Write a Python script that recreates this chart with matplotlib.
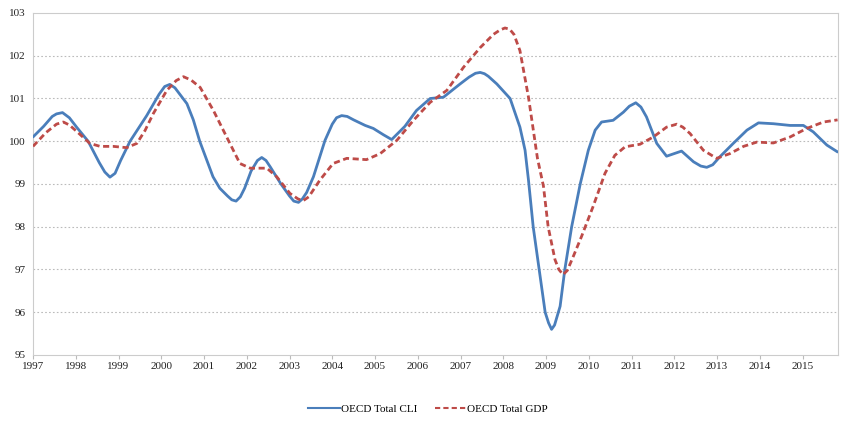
import matplotlib
matplotlib.use("Agg")
import matplotlib.pyplot as plt
from matplotlib.lines import Line2D

cli_years = [1997.00, 1997.25, 1997.45, 1997.55, 1997.69, 1997.85, 1998.02, 1998.29,
             1998.55, 1998.68, 1998.80, 1998.92, 1999.05, 1999.27, 1999.66, 1999.95,
             2000.08, 2000.20, 2000.32, 2000.60, 2000.75, 2000.90, 2001.21, 2001.37,
             2001.55, 2001.65, 2001.75, 2001.85, 2001.95, 2002.10, 2002.25, 2002.35,
             2002.45, 2002.55, 2002.80, 2003.00, 2003.10, 2003.21, 2003.30, 2003.40,
             2003.56, 2003.83, 2004.00, 2004.10, 2004.22, 2004.35, 2004.50, 2004.77,
             2004.96, 2005.20, 2005.39, 2005.70, 2005.97, 2006.29, 2006.60, 2006.99,
             2007.20, 2007.35, 2007.46, 2007.56, 2007.65, 2007.85, 2008.16, 2008.39,
             2008.51, 2008.59, 2008.70, 2008.84, 2008.98, 2009.06, 2009.13, 2009.20,
             2009.33, 2009.44, 2009.60, 2009.80, 2009.99, 2010.15, 2010.30, 2010.57,
             2010.81, 2010.95, 2011.10, 2011.22, 2011.35, 2011.59, 2011.82, 2012.17,
             2012.45, 2012.62, 2012.76, 2012.90, 2013.07, 2013.38, 2013.70, 2013.97,
             2014.32, 2014.71, 2015.02, 2015.25, 2015.57, 2015.82]
cli_values = [100.10, 100.35, 100.58, 100.64, 100.67, 100.55, 100.33, 100.00,
              99.50, 99.28, 99.16, 99.25, 99.55, 100.00, 100.60, 101.10,
              101.28, 101.33, 101.25, 100.88, 100.50, 100.00, 99.17, 98.90,
              98.72, 98.63, 98.60, 98.70, 98.90, 99.30, 99.55, 99.62,
              99.55, 99.40, 99.00, 98.72, 98.60, 98.57, 98.65, 98.80,
              99.17, 100.02, 100.40, 100.55, 100.60, 100.58, 100.50, 100.37,
              100.30, 100.15, 100.04, 100.35, 100.72, 101.00, 101.03, 101.34,
              101.50, 101.59, 101.61, 101.58, 101.52, 101.34, 101.00, 100.33,
              99.79, 99.09, 98.00, 97.00, 96.00, 95.75, 95.60, 95.70,
              96.14, 97.00, 98.00, 99.00, 99.79, 100.26, 100.45, 100.49,
              100.68, 100.82, 100.90, 100.80, 100.57, 99.95, 99.65, 99.77,
              99.52, 99.42, 99.39, 99.45, 99.64, 99.95, 100.26, 100.43,
              100.41, 100.37, 100.37, 100.22, 99.91, 99.75]

gdp_years = [1997.00, 1997.30, 1997.55, 1997.71, 1997.85, 1998.00, 1998.33, 1998.57,
             1998.88, 1999.19, 1999.43, 1999.62, 1999.81, 2000.13, 2000.35, 2000.52,
             2000.70, 2000.91, 2001.22, 2001.53, 2001.84, 2002.08, 2002.47, 2002.70,
             2003.01, 2003.20, 2003.32, 2003.45, 2003.71, 2004.02, 2004.34, 2004.80,
             2005.12, 2005.51, 2005.90, 2006.29, 2006.68, 2007.07, 2007.46, 2007.77,
             2007.92, 2008.04, 2008.15, 2008.25, 2008.39, 2008.59, 2008.80, 2008.94,
             2009.05, 2009.21, 2009.30, 2009.40, 2009.50, 2009.64, 2009.83, 2010.10,
             2010.38, 2010.61, 2010.85, 2011.20, 2011.51, 2011.82, 2012.06, 2012.20,
             2012.37, 2012.68, 2012.99, 2013.30, 2013.62, 2013.93, 2014.32, 2014.71,
             2015.10, 2015.49, 2015.82]
gdp_values = [99.88, 100.20, 100.40, 100.45, 100.38, 100.25, 99.95, 99.88,
              99.88, 99.85, 99.95, 100.25, 100.64, 101.19, 101.42, 101.51,
              101.43, 101.26, 100.72, 100.10, 99.48, 99.37, 99.37, 99.17,
              98.78, 98.65, 98.61, 98.70, 99.09, 99.48, 99.60, 99.57,
              99.71, 100.02, 100.49, 100.91, 101.19, 101.73, 102.19, 102.50,
              102.60, 102.65, 102.62, 102.50, 102.12, 101.03, 99.60, 98.95,
              98.00, 97.23, 97.00, 96.88, 96.98, 97.31, 97.77, 98.47,
              99.25, 99.67, 99.87, 99.93, 100.10, 100.33, 100.40, 100.33,
              100.18, 99.79, 99.60, 99.71, 99.88, 99.98, 99.96, 100.10,
              100.30, 100.45, 100.50]

x_ticks = list(range(1997, 2016))
y_ticks = [95, 96, 97, 98, 99, 100, 101, 102, 103]
labels = ["OECD Total CLI", "OECD Total GDP"]

plt.rcParams['font.family'] = ['Liberation Serif', 'DejaVu Serif']

fig = plt.figure(figsize=(8.5, 4.34), dpi=100)
ax = fig.add_axes([33/850, 1 - 355/434, (838 - 33)/850, (355 - 13)/434])

blue = '#4A7EBB'
red = '#BE4B48'
ax.plot(cli_years, cli_values, color=blue, lw=2.0, solid_joinstyle='round',
        solid_capstyle='round', zorder=3)
ax.plot(gdp_years, gdp_values, color=red, lw=2.0, dashes=(2.2, 1.3),
        dash_joinstyle='round', zorder=3)

ax.set_xlim(1997, 2015.83)
ax.set_ylim(95, 103)
ax.set_xticks(x_ticks)
ax.set_xticklabels([str(t) for t in x_ticks], fontsize=8, color='#222222')
ax.set_yticks(y_ticks)
ax.set_yticklabels([str(t) for t in y_ticks], fontsize=8, color='#222222')
ax.tick_params(axis='x', length=3, color='#BBBBBB', pad=2)
ax.tick_params(axis='y', length=0, pad=5)

for v in y_ticks[1:-1]:
    ax.axhline(v, color='#BBBBBB', lw=0.8, ls=(0, (1.5, 2.0)), zorder=1)

for s in ax.spines.values():
    s.set_color('#CCCCCC')
    s.set_linewidth(0.8)

handles = [Line2D([], [], color=blue, lw=1.5),
           Line2D([], [], color=red, lw=1.5, dashes=(2.5, 1.5))]
fig.legend(handles, labels, loc='center', bbox_to_anchor=(428/850, 1 - 409/434),
           ncol=2, frameon=False, fontsize=8, handlelength=2.8,
           handletextpad=0.1, columnspacing=1.6)

fig.savefig('out.png', dpi=100)
